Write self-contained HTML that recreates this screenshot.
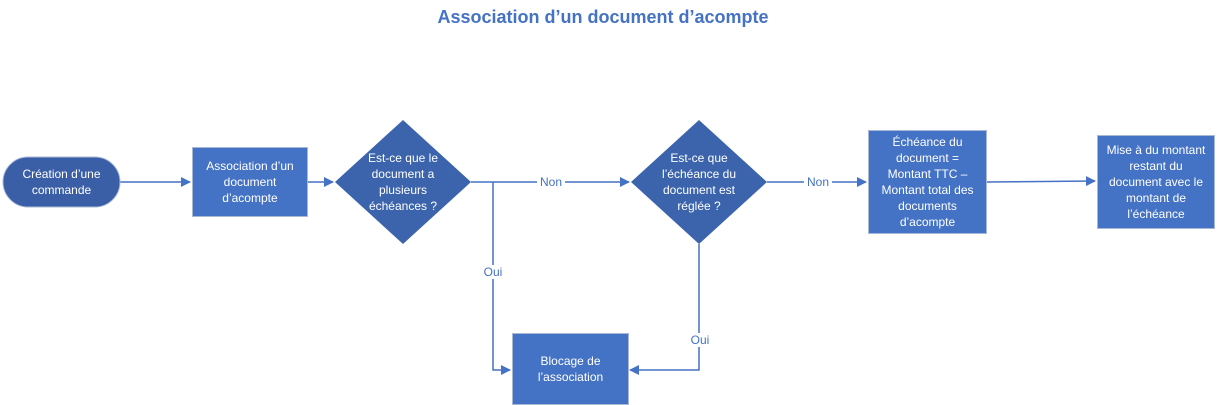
<!DOCTYPE html>
<html><head><meta charset="utf-8"><style>
body{margin:0;width:1219px;height:405px;background:#fff;overflow:hidden;position:relative;font-family:"Liberation Sans",sans-serif}
.t{position:absolute;display:flex;align-items:center;justify-content:center;text-align:center;color:#fff;font-size:12px;line-height:16px;box-sizing:border-box;white-space:nowrap}
.r{background:#4472C4;border:1px solid #a9b8d6}
</style></head><body>
<div style="position:absolute;left:0;width:1206px;top:7px;text-align:center;color:#4472C4;font-weight:bold;font-size:18px">Association d’un document d’acompte</div>
<svg width="1219" height="405" style="position:absolute;left:0;top:0">
<defs><marker id="a" markerWidth="10" markerHeight="10" refX="9" refY="5" orient="auto" markerUnits="userSpaceOnUse"><path d="M0,0L10,5L0,10z" fill="#4472C4"/></marker></defs>
<g stroke="#4472C4" stroke-width="1.5" fill="none">
<line x1="120" y1="182" x2="190" y2="182" marker-end="url(#a)"/>
<line x1="308" y1="182" x2="333" y2="182" marker-end="url(#a)"/>
<line x1="471" y1="182" x2="629" y2="182" marker-end="url(#a)"/>
<polyline points="493,182 493,370 510,370" marker-end="url(#a)"/>
<line x1="767" y1="182" x2="866" y2="182" marker-end="url(#a)"/>
<polyline points="699,244 699,370 630,370" marker-end="url(#a)"/>
<line x1="987" y1="182" x2="1095" y2="181" marker-end="url(#a)"/>
</g>
<polygon points="403,120 471,182 403,244 335,182" fill="#3C64AC"/>
<polygon points="699,120 767,182 699,244 631,182" fill="#3C64AC"/>
<rect x="3" y="157" width="117" height="50" rx="25" fill="#3A5FA6" stroke="#a9b8d6"/>
<rect x="537" y="175" width="28" height="14" fill="#fff"/>
<rect x="804" y="175" width="28" height="14" fill="#fff"/>
<rect x="481" y="265" width="24" height="14" fill="#fff"/>
<rect x="687" y="333" width="24" height="14" fill="#fff"/>
<g fill="#4472C4" font-size="12" font-family="Liberation Sans" text-anchor="middle">
<text x="551" y="186">Non</text><text x="818" y="186">Non</text>
<text x="493" y="276">Oui</text><text x="700" y="344">Oui</text>
</g>
</svg>
<div class="t" style="left:3px;top:157px;width:117px;height:50px">Création d’une<br>commande</div>
<div class="t r" style="left:192px;top:147px;width:116px;height:70px">Association d’un<br>document<br>d’acompte</div>
<div class="t" style="left:345px;top:140px;width:116px;height:84px">Est-ce que le<br>document a<br>plusieurs<br>échéances ?</div>
<div class="t" style="left:641px;top:140px;width:116px;height:84px">Est-ce que<br>l’échéance du<br>document est<br>réglée ?</div>
<div class="t r" style="left:868px;top:130px;width:119px;height:104px">Échéance du<br>document =<br>Montant TTC –<br>Montant total des<br>documents<br>d’acompte</div>
<div class="t r" style="left:1097px;top:135px;width:118px;height:94px">Mise à du montant<br>restant du<br>document avec le<br>montant de<br>l’échéance</div>
<div class="t r" style="left:512px;top:333px;width:117px;height:72px">Blocage de<br>l’association</div>
</body></html>
